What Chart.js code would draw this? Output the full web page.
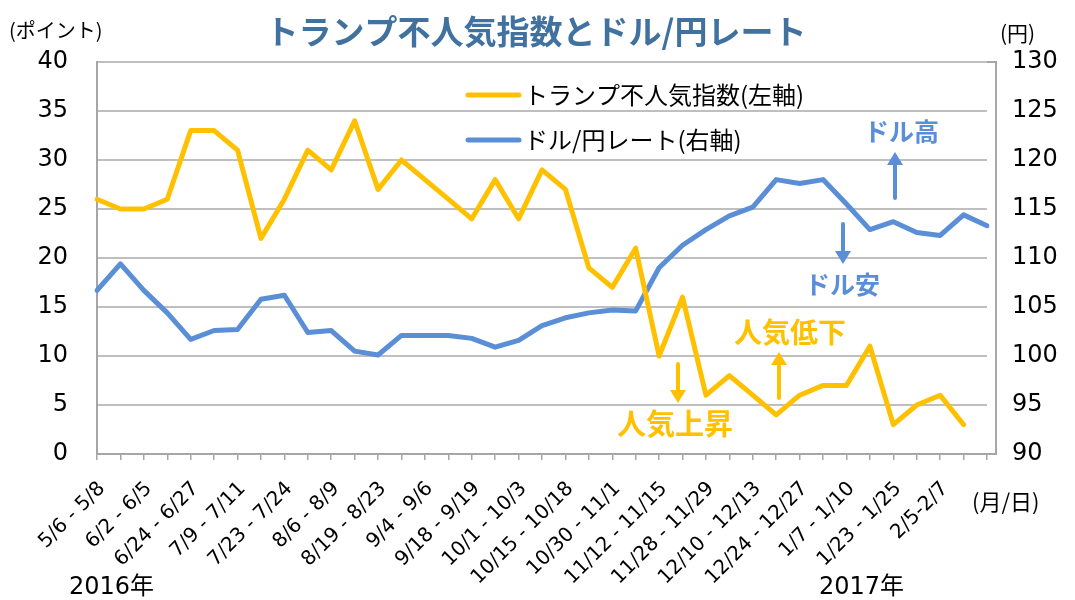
<!DOCTYPE html>
<html>
<head>
<meta charset="utf-8">
<script src="https://cdn.jsdelivr.net/npm/chart.js@4/dist/chart.umd.min.js"></script>
<style>
  body { margin: 0; background: #fff; }
</style>
</head>
<body>
<canvas id="trumpChart" width="1075" height="600"></canvas>
<script>
// weekly poll periods (only every other one is printed on the axis)
const weekLabels = ['5/6 - 5/8', '6/2 - 6/5', '6/24 - 6/27', '7/9 - 7/11', '7/23 - 7/24',
    '8/6 - 8/9', '8/19 - 8/23', '9/4 - 9/6', '9/18 - 9/19', '10/1 - 10/3', '10/15 - 10/18',
    '10/30 - 11/1', '11/12 - 11/15', '11/28 - 11/29', '12/10 - 12/13', '12/24 - 12/27',
    '1/7 - 1/10', '1/23 - 1/25', '2/5-2/7'];

// トランプ不人気指数 (left axis)
const unpopularity = [26, 25, 25, 26, 33, 33, 31, 22, 26, 31,
    29, 34, 27, 30, 28, 26, 24, 28, 24, 29,
    27, 19, 17, 21, 10, 16, 6, 8, 6, 4,
    6, 7, 7, 11, 3, 5, 6, 3, null];

// ドル/円 (right axis)
const usdJpy = [106.7, 109.4, 106.7, 104.4, 101.7, 102.6, 102.7, 105.8, 106.2, 102.4,
    102.6, 100.5, 100.1, 102.1, 102.1, 102.1, 101.8, 100.9, 101.6, 103.1,
    103.9, 104.4, 104.7, 104.6, 109.0, 111.3, 112.9, 114.3, 115.2, 118.0,
    117.6, 118.0, 115.5, 112.9, 113.7, 112.6, 112.3, 114.4, 113.3];

const leftTicks = [0, 40, 5];
const rightTicks = [90, 130, 5];

const categories = usdJpy.map((v, i) => (i % 2 === 0 && weekLabels[i / 2]) ? weekLabels[i / 2] : '');

const ORANGE = '#FFC000';
const BLUE = '#5A8ED6';
const GRID = '#BFBFBF';
const AXIS = '#A6A6A6';
const JP = '"Noto Sans CJK JP", sans-serif';
const NUM = '"DejaVu Sans", "Noto Sans CJK JP", sans-serif';

function arrow(ctx, x, yFrom, yTo, color) {
    const dir = yTo > yFrom ? 1 : -1;
    ctx.save();
    ctx.strokeStyle = color;
    ctx.fillStyle = color;
    ctx.lineWidth = 4;
    ctx.beginPath();
    ctx.moveTo(x, yFrom);
    ctx.lineTo(x, yTo - dir * 11);
    ctx.stroke();
    ctx.beginPath();
    ctx.moveTo(x, yTo);
    ctx.lineTo(x - 8, yTo - dir * 13);
    ctx.lineTo(x + 8, yTo - dir * 13);
    ctx.closePath();
    ctx.fill();
    ctx.restore();
}

function txt(ctx, s, x, y, font, color, align) {
    ctx.font = font;
    ctx.fillStyle = color;
    ctx.textAlign = align || 'left';
    ctx.textBaseline = 'middle';
    ctx.fillText(s, x, y);
}

const extras = {
    id: 'extras',
    afterDraw(chart) {
        const ctx = chart.ctx;
        const a = chart.chartArea;
        ctx.save();

        // frame on the right side of the plot
        ctx.strokeStyle = AXIS;
        ctx.lineWidth = 2;
        ctx.beginPath();
        ctx.moveTo(a.right, a.top);
        ctx.lineTo(a.right + 9, a.top);
        ctx.lineTo(a.right + 9, a.bottom);
        ctx.lineTo(a.right, a.bottom);
        ctx.stroke();

        // title and units
        txt(ctx, 'トランプ不人気指数とドル/円レート', 536, 31, 'bold 33px ' + JP, '#41729F', 'center');
        txt(ctx, '(ポイント)', 9, 30, '20px ' + JP, '#000');
        txt(ctx, '(円)', 1000, 33, '21px ' + JP, '#000');
        txt(ctx, '(月/日)', 972, 502, '22px ' + JP, '#000');
        txt(ctx, '2016年', 69, 588, '24px ' + NUM, '#000');
        txt(ctx, '2017年', 819, 588, '24px ' + NUM, '#000');

        // legend
        chart.data.datasets.forEach((ds, i) => {
            const y = 95 + i * 45;
            ctx.strokeStyle = ds.borderColor;
            ctx.lineWidth = 5;
            ctx.lineCap = 'round';
            ctx.beginPath();
            ctx.moveTo(468, y);
            ctx.lineTo(519, y);
            ctx.stroke();
            txt(ctx, ds.label, 524, y, '24px ' + JP, '#000');
        });

        // annotations
        txt(ctx, 'ドル高', 864, 131, 'bold 25px ' + JP, BLUE);
        arrow(ctx, 895, 198, 152, BLUE);
        txt(ctx, 'ドル安', 805, 284, 'bold 25px ' + JP, BLUE);
        arrow(ctx, 843, 224, 264, BLUE);
        txt(ctx, '人気低下', 734, 332, 'bold 28px ' + JP, ORANGE);
        arrow(ctx, 779, 398, 352, ORANGE);
        txt(ctx, '人気上昇', 617, 424, 'bold 29px ' + JP, ORANGE);
        arrow(ctx, 678, 364, 403, ORANGE);

        ctx.restore();
    }
};

new Chart(document.getElementById('trumpChart'), {
    type: 'line',
    data: {
        labels: categories,
        datasets: [{
            label: 'トランプ不人気指数(左軸)',
            data: unpopularity,
            borderColor: ORANGE,
            yAxisID: 'y',
        }, {
            label: 'ドル/円レート(右軸)',
            data: usdJpy,
            borderColor: BLUE,
            yAxisID: 'y1',
        }]
    },
    options: {
        responsive: false,
        animation: false,
        layout: { padding: { top: 62, left: 0, right: 0, bottom: 0 } },
        elements: {
            line: { borderWidth: 5, tension: 0, borderJoinStyle: 'round', borderCapStyle: 'round' },
            point: { radius: 0 }
        },
        plugins: {
            legend: { display: false },
            tooltip: { enabled: false }
        },
        scales: {
            x: {
                offset: false,
                grid: { drawOnChartArea: false, color: AXIS, lineWidth: 1.5, tickLength: 6 },
                border: { color: AXIS, width: 2 },
                ticks: {
                    autoSkip: false, maxRotation: 45, minRotation: 45, padding: 17, labelOffset: 5,
                    color: '#000', font: { family: NUM, size: 20 }
                },
                afterFit: s => { s.height = 146; }
            },
            y: {
                position: 'left',
                min: leftTicks[0], max: leftTicks[1],
                ticks: { stepSize: leftTicks[2], padding: 29, color: '#000', font: { family: NUM, size: 24 } },
                grid: { color: GRID, lineWidth: 2, drawTicks: false },
                border: { color: AXIS, width: 2 },
                afterFit: s => { s.width = 97; }
            },
            y1: {
                position: 'right',
                min: rightTicks[0], max: rightTicks[1],
                ticks: { stepSize: rightTicks[2], padding: 25, color: '#000', font: { family: NUM, size: 24 } },
                grid: { drawOnChartArea: false, drawTicks: false },
                border: { display: false },
                afterFit: s => { s.width = 88; }
            }
        }
    },
    plugins: [extras]
});
</script>
</body>
</html>
